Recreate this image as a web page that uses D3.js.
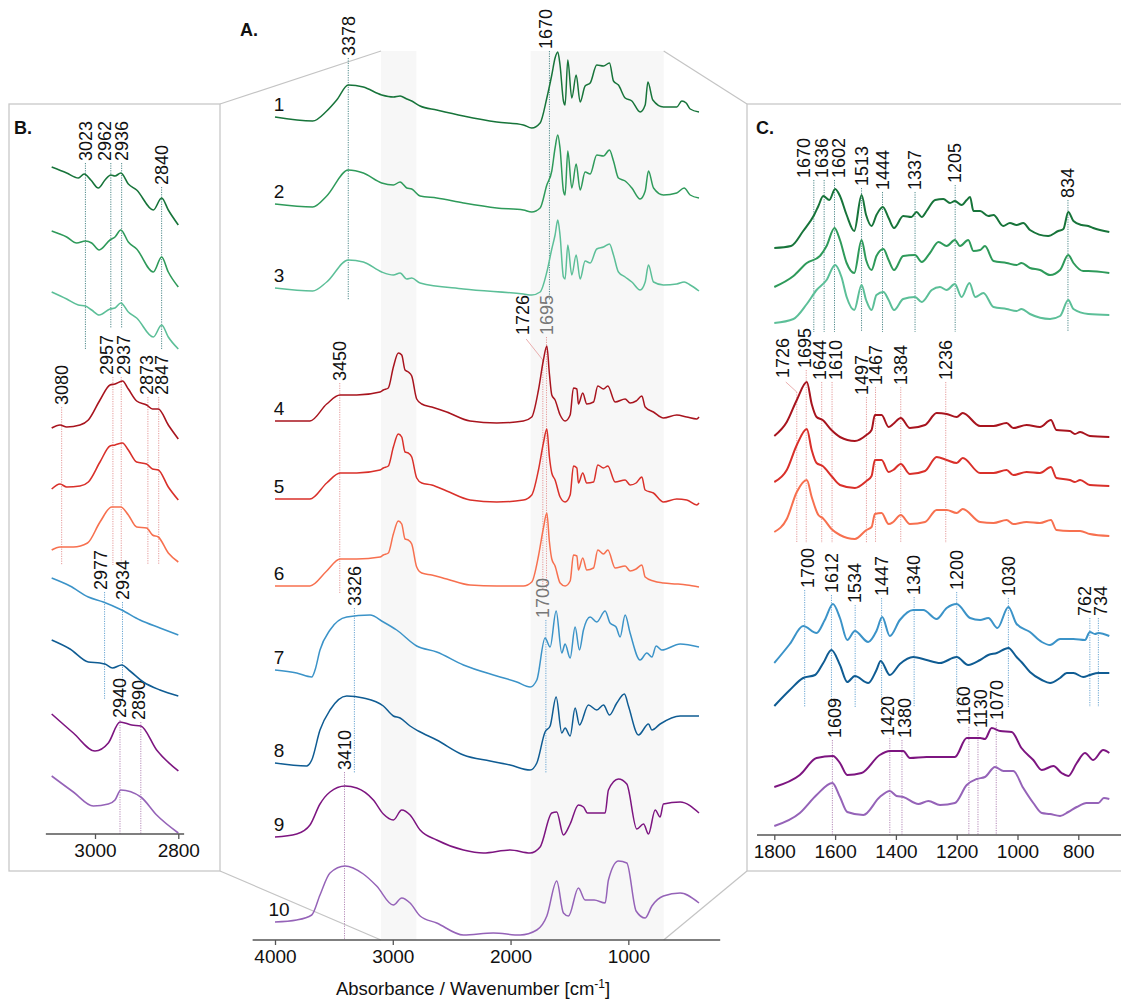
<!DOCTYPE html>
<html>
<head>
<meta charset="utf-8">
<script src="https://cdn.jsdelivr.net/npm/d3@7"></script>
<style>
  body { margin: 0; background: #fff; }
  svg { font-family: "Liberation Sans", Arial, sans-serif; }
</style>
</head>
<body>
<svg id="chart" width="1121" height="1000"></svg>
<script>
// ---- sample labels and colours ----
const sampleLabels = ["1", "2", "3", "4", "5", "6", "7", "8", "9", "10"];
const colors = ["#17743a", "#2e9a5a", "#5cbf98", "#a8141e", "#d9302a", "#f7704f",
                "#3b93c8", "#0f5c93", "#7d1580", "#9563b8"];

// ---- A. full spectra, [wavenumber, absorbance relative to 4000 cm-1] ----
const specA1 = [[4000,0],[3680,-0.04],[3561,0.06],[3476,0.17],[3378,0.32],[3250,0.30],[3094,0.22],[2995,0.20],[2938,0.21],[2881,0.18],[2839,0.16],[2768,0.11],[2627,0.07],[2400,0.01],[2117,-0.05],[1891,-0.08],[1820,-0.11],[1749,-0.06],[1692,0.19],[1650,0.42],[1622,0.59],[1599,0.65],[1580,0.52],[1551,0.16],[1537,0.12],[1514,0.57],[1480,0.19],[1443,0.42],[1409,0.15],[1367,0.31],[1324,0.34],[1268,0.52],[1211,0.51],[1160,0.54],[1126,0.36],[1084,0.32],[1027,0.19],[970,0.16],[900,0.05],[857,0.12],[834,0.35],[792,0.17],[702,0.10],[589,0.10],[546,0.16],[509,0.14],[475,0.08],[400,0.05]];
const specA2 = [[4000,0],[3680,-0.03],[3561,0.08],[3378,0.34],[3250,0.31],[3094,0.21],[2995,0.19],[2938,0.22],[2881,0.16],[2839,0.15],[2768,0.08],[2627,0.06],[2400,0.01],[2117,-0.04],[1891,-0.06],[1820,-0.08],[1749,-0.04],[1692,0.19],[1650,0.33],[1622,0.56],[1599,0.69],[1580,0.56],[1551,0.13],[1537,0.09],[1514,0.53],[1480,0.16],[1443,0.40],[1409,0.14],[1367,0.32],[1324,0.30],[1268,0.49],[1211,0.48],[1160,0.54],[1126,0.43],[1084,0.26],[1027,0.23],[970,0.16],[900,0.05],[857,0.13],[829,0.33],[786,0.16],[702,0.09],[589,0.11],[526,0.16],[475,0.09],[400,0.06]];
const specA3 = [[4000,0],[3680,-0.03],[3561,0.06],[3378,0.28],[3250,0.26],[3094,0.16],[2995,0.13],[2938,0.15],[2881,0.09],[2839,0.10],[2768,0.05],[2400,-0.01],[1891,-0.06],[1820,-0.07],[1749,-0.04],[1692,0.16],[1650,0.39],[1622,0.53],[1599,0.68],[1580,0.53],[1551,0.11],[1537,0.09],[1514,0.43],[1480,0.13],[1443,0.33],[1409,0.09],[1367,0.27],[1324,0.25],[1268,0.39],[1211,0.41],[1160,0.44],[1126,0.33],[1084,0.16],[1027,0.11],[970,0.06],[900,-0.02],[857,0.06],[829,0.23],[786,0.06],[702,0.03],[589,0.04],[526,0.06],[475,0.03],[400,-0.03]];
const specA4 = [[4000,0],[3703,0],[3561,0.17],[3448,0.26],[3306,0.26],[3108,0.29],[3080,0.31],[3038,0.33],[2995,0.54],[2953,0.68],[2924,0.66],[2896,0.51],[2868,0.49],[2839,0.45],[2797,0.22],[2754,0.17],[2669,0.14],[2542,0.09],[2344,0],[2117,-0.02],[1891,0],[1820,0.04],[1763,0.31],[1721,0.61],[1692,0.75],[1670,0.47],[1650,0.26],[1622,0.21],[1579,0.06],[1537,0],[1494,0.06],[1466,0.33],[1437,0.32],[1424,0.17],[1387,0.28],[1353,0.17],[1296,0.19],[1259,0.35],[1211,0.32],[1174,0.35],[1112,0.19],[1027,0.22],[985,0.18],[934,0.20],[885,0.25],[857,0.14],[787,0.09],[702,0.03],[589,0.06],[504,0.04],[419,0.02],[400,0.04]];
const specA5 = [[4000,0],[3703,0],[3561,0.16],[3448,0.26],[3306,0.26],[3108,0.29],[3080,0.31],[3038,0.33],[2995,0.52],[2953,0.65],[2924,0.62],[2896,0.47],[2868,0.46],[2839,0.42],[2797,0.21],[2754,0.16],[2669,0.14],[2542,0.08],[2344,-0.01],[2117,-0.03],[1891,-0.01],[1820,0.04],[1763,0.29],[1721,0.56],[1692,0.70],[1670,0.42],[1650,0.26],[1622,0.19],[1579,0.02],[1537,-0.03],[1494,0.04],[1466,0.33],[1437,0.31],[1424,0.16],[1387,0.26],[1353,0.16],[1296,0.17],[1259,0.34],[1211,0.31],[1174,0.33],[1112,0.17],[1027,0.19],[985,0.14],[934,0.16],[885,0.22],[857,0.09],[787,0.06],[702,-0.03],[589,0],[504,-0.01],[419,-0.06],[400,-0.04]];
const specA6 = [[4000,0],[3703,0],[3561,0.15],[3448,0.27],[3306,0.27],[3108,0.29],[3080,0.31],[3038,0.33],[2995,0.52],[2953,0.65],[2924,0.62],[2896,0.47],[2868,0.46],[2839,0.42],[2797,0.19],[2754,0.13],[2669,0.11],[2542,0.07],[2344,0.01],[2117,0],[1891,0],[1820,0.04],[1763,0.30],[1721,0.58],[1692,0.73],[1670,0.44],[1650,0.27],[1622,0.20],[1579,0.03],[1537,0],[1494,0.05],[1466,0.31],[1437,0.30],[1424,0.16],[1387,0.28],[1353,0.16],[1296,0.18],[1259,0.36],[1211,0.32],[1174,0.36],[1112,0.18],[1027,0.20],[985,0.15],[934,0.17],[885,0.21],[857,0.09],[787,0.05],[702,0.03],[589,0.02],[504,0.01],[400,-0.01]];
const specA7 = [[4000,0],[3816,-0.03],[3688,-0.07],[3660,0],[3618,0.20],[3533,0.40],[3391,0.53],[3193,0.55],[3080,0.48],[2967,0.40],[2797,0.24],[2627,0.18],[2400,0.05],[2117,-0.06],[1947,-0.12],[1834,-0.17],[1777,-0.10],[1707,0.32],[1664,0.23],[1613,0.59],[1565,0.17],[1537,0.26],[1494,0.12],[1452,0.43],[1415,0.20],[1381,0.40],[1324,0.53],[1268,0.48],[1197,0.59],[1155,0.47],[1104,0.43],[1070,0.33],[1027,0.55],[985,0.37],[900,0.10],[843,0.17],[800,0.13],[764,0.24],[716,0.20],[560,0.26],[400,0.23]];
const specA8 = [[4000,0],[3731,-0.03],[3688,0.03],[3618,0.33],[3533,0.53],[3391,0.67],[3250,0.65],[3080,0.57],[2995,0.47],[2938,0.45],[2853,0.37],[2783,0.32],[2627,0.23],[2400,0.08],[2174,0.02],[2004,-0.02],[1834,-0.07],[1777,0],[1707,0.31],[1664,0.37],[1613,0.66],[1565,0.30],[1537,0.35],[1494,0.27],[1452,0.55],[1415,0.38],[1339,0.58],[1268,0.53],[1211,0.58],[1160,0.48],[1098,0.60],[1033,0.69],[999,0.57],[914,0.28],[829,0.39],[800,0.33],[730,0.39],[560,0.47],[400,0.47]];
const specA9 = [[4000,0],[3816,0.03],[3703,0.12],[3618,0.33],[3533,0.45],[3405,0.51],[3306,0.49],[3165,0.37],[3080,0.23],[2995,0.17],[2924,0.27],[2853,0.22],[2768,0.07],[2627,-0.03],[2400,-0.13],[2231,-0.16],[2004,-0.13],[1834,-0.16],[1749,-0.10],[1650,0.24],[1608,0.25],[1551,0.02],[1494,0.13],[1424,0.32],[1381,0.30],[1347,0.24],[1197,0.24],[1169,0.47],[1084,0.58],[1013,0.53],[928,0.08],[871,0.13],[829,0.03],[772,0.27],[730,0.20],[702,0.33],[560,0.35],[400,0.24]];
const specA10 = [[4000,0],[3816,0.02],[3688,0.07],[3618,0.27],[3533,0.49],[3405,0.56],[3250,0.48],[3137,0.36],[2995,0.17],[2924,0.24],[2853,0.19],[2768,0.06],[2627,-0.01],[2400,-0.13],[2146,-0.11],[1919,-0.13],[1777,-0.08],[1692,0.06],[1608,0.41],[1551,0.09],[1508,0.06],[1424,0.34],[1367,0.22],[1290,0.22],[1197,0.19],[1169,0.42],[1084,0.61],[1013,0.59],[934,0.11],[857,0.04],[800,0.16],[702,0.26],[560,0.29],[400,0.19]];
const offsetsA = [8.23, 7.36, 6.52, 5.19, 4.41, 3.54, 2.70, 1.77, 1.03, 0.18];

// ---- B. 3100-2800 cm-1 detail ----
const specB1 = [[3104,0],[3068,-0.06],[3040,-0.11],[3026,-0.07],[3010,-0.13],[2992,-0.21],[2976,-0.13],[2962,-0.08],[2952,-0.09],[2938,-0.06],[2920,-0.17],[2900,-0.23],[2860,-0.43],[2840,-0.31],[2824,-0.43],[2800,-0.58]];
const specB2 = [[3104,0],[3068,-0.06],[3044,-0.12],[3023,-0.10],[3008,-0.12],[2990,-0.19],[2964,-0.09],[2952,-0.06],[2938,0.01],[2920,-0.11],[2900,-0.18],[2860,-0.41],[2840,-0.26],[2824,-0.41],[2800,-0.56]];
const specB3 = [[3104,0],[3068,-0.07],[3040,-0.13],[3023,-0.14],[3008,-0.18],[2990,-0.23],[2964,-0.17],[2952,-0.16],[2938,-0.11],[2920,-0.20],[2900,-0.26],[2860,-0.45],[2840,-0.33],[2824,-0.45],[2800,-0.57]];
const specB4 = [[3104,0],[3084,0.03],[3068,0.01],[3036,0.03],[3016,0.08],[2988,0.28],[2964,0.43],[2952,0.44],[2934,0.47],[2920,0.39],[2900,0.27],[2876,0.23],[2862,0.19],[2848,0.19],[2824,0.03],[2800,-0.11]];
const specB5 = [[3104,0],[3084,0.05],[3068,0.02],[3036,0.03],[3016,0.07],[2988,0.27],[2964,0.43],[2952,0.44],[2934,0.46],[2920,0.39],[2900,0.27],[2876,0.25],[2862,0.20],[2848,0.19],[2824,0.02],[2800,-0.11]];
const specB6 = [[3104,0],[3084,0.03],[3052,0.03],[3018,0.07],[2988,0.28],[2960,0.43],[2938,0.43],[2920,0.35],[2900,0.23],[2876,0.22],[2862,0.15],[2848,0.13],[2824,-0.03],[2800,-0.12]];
const specB7 = [[3104,0],[3060,-0.08],[3016,-0.19],[2980,-0.24],[2936,-0.32],[2892,-0.42],[2844,-0.50],[2800,-0.57]];
const specB8 = [[3104,0],[3060,-0.09],[3016,-0.22],[2988,-0.23],[2976,-0.24],[2958,-0.28],[2936,-0.25],[2916,-0.31],[2884,-0.42],[2844,-0.50],[2800,-0.56]];
const specB9 = [[3104,0],[3052,-0.19],[3000,-0.37],[2968,-0.29],[2940,-0.08],[2912,-0.11],[2890,-0.12],[2852,-0.36],[2800,-0.57]];
const specB10 = [[3104,0],[3052,-0.16],[3004,-0.30],[2968,-0.28],[2952,-0.24],[2938,-0.14],[2890,-0.21],[2852,-0.39],[2800,-0.57]];
const offsetsB = [6.67, 6.03, 5.42, 4.06, 3.45, 2.84, 2.56, 1.94, 1.20, 0.58];

// ---- C. 1800-700 cm-1 detail ----
const specC1 = [[1800,0],[1745,0.02],[1705,0.17],[1669,0.33],[1655,0.42],[1639,0.52],[1619,0.48],[1600,0.59],[1584,0.52],[1562,0.33],[1537,0.17],[1513,0.53],[1498,0.33],[1480,0.22],[1464,0.33],[1443,0.41],[1424,0.30],[1406,0.20],[1376,0.32],[1349,0.31],[1332,0.36],[1315,0.31],[1299,0.37],[1271,0.48],[1244,0.49],[1222,0.45],[1206,0.47],[1184,0.43],[1167,0.48],[1156,0.51],[1145,0.37],[1123,0.37],[1096,0.32],[1079,0.33],[1047,0.22],[1025,0.25],[1003,0.23],[981,0.25],[959,0.18],[899,0.12],[866,0.17],[849,0.19],[833,0.36],[816,0.27],[789,0.23],[767,0.22],[751,0.20],[698,0.16]];
const specC2 = [[1800,0],[1737,0.11],[1693,0.24],[1650,0.31],[1628,0.41],[1602,0.59],[1584,0.47],[1562,0.24],[1537,0.14],[1513,0.47],[1498,0.27],[1480,0.17],[1464,0.31],[1441,0.38],[1424,0.27],[1406,0.17],[1376,0.31],[1337,0.32],[1315,0.25],[1288,0.34],[1260,0.45],[1233,0.41],[1206,0.47],[1189,0.41],[1162,0.47],[1145,0.36],[1123,0.37],[1107,0.41],[1079,0.26],[1036,0.24],[1003,0.22],[987,0.24],[959,0.19],[926,0.17],[893,0.12],[860,0.17],[833,0.32],[816,0.24],[784,0.16],[767,0.16],[698,0.14]];
const specC3 = [[1800,0],[1737,0.04],[1693,0.19],[1661,0.33],[1628,0.43],[1600,0.58],[1579,0.46],[1562,0.26],[1537,0.13],[1513,0.38],[1498,0.23],[1480,0.13],[1464,0.28],[1441,0.31],[1424,0.23],[1406,0.13],[1376,0.24],[1337,0.26],[1315,0.21],[1282,0.33],[1255,0.36],[1233,0.33],[1206,0.39],[1184,0.26],[1158,0.40],[1139,0.26],[1112,0.30],[1079,0.16],[1036,0.14],[1003,0.12],[987,0.14],[959,0.09],[893,0.04],[860,0.07],[833,0.23],[816,0.14],[767,0.09],[698,0.08]];
const specC4 = [[1800,0],[1759,0.14],[1726,0.36],[1693,0.54],[1677,0.32],[1661,0.19],[1641,0.16],[1612,0.06],[1584,-0.01],[1535,-0.05],[1497,0.01],[1480,0.06],[1469,0.21],[1447,0.21],[1424,0.09],[1409,0.12],[1384,0.18],[1354,0.08],[1304,0.11],[1266,0.23],[1233,0.22],[1200,0.19],[1180,0.23],[1123,0.10],[1079,0.10],[1036,0.13],[1014,0.08],[970,0.11],[926,0.09],[890,0.16],[872,0.06],[828,0.05],[811,0.02],[794,0.04],[762,0],[698,-0.01]];
const specC5 = [[1800,0],[1759,0.12],[1726,0.37],[1693,0.53],[1677,0.32],[1661,0.19],[1641,0.16],[1612,0.06],[1584,-0.03],[1535,-0.06],[1497,0.01],[1480,0.06],[1469,0.22],[1447,0.22],[1424,0.10],[1409,0.12],[1384,0.18],[1354,0.08],[1304,0.11],[1266,0.25],[1233,0.22],[1200,0.19],[1180,0.24],[1123,0.09],[1079,0.09],[1036,0.12],[1014,0.07],[970,0.10],[926,0.09],[890,0.15],[872,0.04],[828,0.02],[811,0],[794,0.02],[762,-0.03],[698,-0.04]];
const specC6 = [[1800,0],[1759,0.13],[1726,0.40],[1693,0.52],[1677,0.35],[1655,0.17],[1641,0.14],[1612,0.03],[1584,-0.03],[1535,-0.07],[1497,0.02],[1480,0.05],[1469,0.18],[1447,0.19],[1424,0.08],[1409,0.10],[1384,0.17],[1354,0.08],[1304,0.10],[1266,0.22],[1233,0.22],[1200,0.19],[1180,0.23],[1123,0.10],[1079,0.09],[1036,0.12],[1014,0.08],[970,0.10],[926,0.09],[890,0.12],[872,0.02],[828,0.01],[794,0.01],[762,-0.02],[698,-0.04]];
const specC7 = [[1800,0],[1749,0.19],[1705,0.37],[1661,0.30],[1634,0.43],[1607,0.59],[1584,0.45],[1560,0.23],[1535,0.32],[1491,0.21],[1464,0.32],[1445,0.46],[1420,0.27],[1387,0.43],[1343,0.53],[1310,0.53],[1266,0.44],[1233,0.55],[1200,0.59],[1156,0.45],[1123,0.43],[1096,0.45],[1066,0.35],[1030,0.56],[1003,0.39],[959,0.31],[920,0.21],[893,0.18],[860,0.24],[816,0.24],[778,0.23],[762,0.31],[745,0.29],[734,0.30],[698,0.27]];
const specC8 = [[1800,0],[1749,0.16],[1705,0.28],[1666,0.31],[1639,0.43],[1612,0.56],[1584,0.41],[1560,0.24],[1535,0.30],[1491,0.23],[1464,0.36],[1450,0.45],[1420,0.31],[1387,0.42],[1343,0.49],[1299,0.46],[1255,0.43],[1200,0.49],[1162,0.41],[1123,0.46],[1096,0.51],[1068,0.53],[1030,0.58],[1003,0.49],[987,0.44],[959,0.34],[920,0.26],[893,0.23],[860,0.28],[838,0.33],[816,0.33],[784,0.29],[762,0.31],[734,0.33],[698,0.33]];
const specC9 = [[1800,0],[1716,0.12],[1661,0.29],[1607,0.31],[1584,0.24],[1560,0.12],[1513,0.14],[1453,0.32],[1420,0.36],[1376,0.36],[1354,0.29],[1299,0.30],[1206,0.30],[1167,0.49],[1123,0.49],[1107,0.48],[1085,0.59],[1057,0.56],[1019,0.55],[987,0.39],[948,0.27],[920,0.17],[882,0.21],[855,0.14],[833,0.11],[805,0.24],[778,0.34],[751,0.27],[718,0.37],[698,0.34]];
const specC10 = [[1800,0],[1716,0.13],[1661,0.31],[1609,0.43],[1584,0.29],[1560,0.14],[1507,0.11],[1453,0.29],[1420,0.35],[1398,0.30],[1376,0.29],[1326,0.22],[1293,0.25],[1255,0.21],[1206,0.23],[1167,0.41],[1134,0.47],[1107,0.49],[1074,0.59],[1046,0.55],[1014,0.55],[981,0.38],[948,0.23],[920,0.13],[893,0.12],[860,0.10],[833,0.14],[805,0.19],[773,0.23],[734,0.23],[716,0.28],[698,0.27]];
const offsetsC = [5.87, 5.48, 5.12, 3.99, 3.53, 3.03, 1.72, 1.29, 0.48, 0.09];

// ---- peak markers: [wavenumber, label base, line bottom, label wavenumber, line top] ----
const marksA = [[3378, 8.82, 6.40], [1670, 8.89, 6.40, 1704], [3450, 5.57, 3.47],
                [1726, 6.03, 3.50, 1893, 5.80], [1695, 6.03, 3.50],
                [3326, 3.32, 1.67], [1700, 3.20, 1.67, 1725], [3410, 1.68, 0]];
const marksB = [[3023, 6.71, 4.84], [2962, 6.71, 5.06, 2976], [2936, 6.71, 5.06], [2840, 6.47, 4.84],
                [3080, 4.27, 2.69], [2957, 4.57, 2.69, 2973], [2937, 4.57, 2.69, 2932], [2873, 4.37, 2.69, 2877], [2847, 4.37, 2.69, 2840],
                [2977, 2.42, 1.34, 2987], [2934, 2.32, 1.34],
                [2940, 1.14, 0], [2890, 1.12, 0, 2895]];
const marksCgreen = [[1670, 6.55, 5.03, 1702], [1636, 6.55, 5.03, 1644], [1602, 6.55, 5.03, 1589], [1513, 6.47, 5.03],
                     [1444, 6.43, 5.03], [1337, 6.43, 5.03], [1205, 6.50, 5.03], [834, 6.35, 5.03]];
const marksCred = [[1726, 4.55, 2.92, 1772, 4.43], [1695, 4.65, 2.92, 1700], [1644, 4.53, 2.92, 1652], [1610, 4.53, 2.92, 1598],
                   [1497, 4.38, 2.92, 1513], [1467, 4.48, 2.92], [1384, 4.48, 2.92], [1236, 4.53, 2.92]];
const marksCblue = [[1700, 2.45, 1.28, 1690], [1612, 2.40, 1.28], [1534, 2.30, 1.28], [1447, 2.37, 1.28],
                    [1340, 2.38, 1.28], [1200, 2.43, 1.28], [1030, 2.37, 1.28], [762, 2.17, 1.28, 778], [734, 2.17, 1.28, 727]];
const marksCpurple = [[1609, 0.95, 0, 1603], [1420, 0.97, 0, 1426], [1380, 0.95, 0, 1371],
                      [1160, 1.08, 0, 1176], [1130, 1.05, 0, 1121], [1070, 1.13, 0]];

// ---- axes ----
const ticksA = [4000, 3000, 2000, 1000];
const ticksB = [3000, 2800];
const ticksC = [1800, 1600, 1400, 1200, 1000, 800];
const bandsA = [[3100, 2800], [1830, 700]];

const specsA = [specA1, specA2, specA3, specA4, specA5, specA6, specA7, specA8, specA9, specA10];
const specsB = [specB1, specB2, specB3, specB4, specB5, specB6, specB7, specB8, specB9, specB10];
const specsC = [specC1, specC2, specC3, specC4, specC5, specC6, specC7, specC8, specC9, specC10];

const svg = d3.select("#chart");

// scales
const xA = d3.scaleLinear().domain([4000, 400]).range([275, 699]);
const yA = d3.scaleLinear().domain([0, 8.9]).range([940, 50]);
const xB = d3.scaleLinear().domain([3000, 2800]).range([95, 178.3]);
const yB = d3.scaleLinear().domain([0, 7.3]).range([834, 104]);
const xC = d3.scaleLinear().domain([1800, 700]).range([774.3, 1108.7]);
const yC = d3.scaleLinear().domain([0, 7.31]).range([835, 104]);

// frames for B and C, and the zoom guides
const frameColor = "#c8c8c8";
svg.append("rect").attr("x", 9).attr("y", 104).attr("width", 211).attr("height", 767)
    .attr("fill", "none").attr("stroke", frameColor).attr("stroke-width", 1.3);
svg.append("rect").attr("x", 747).attr("y", 104).attr("width", 400).attr("height", 767)
    .attr("fill", "none").attr("stroke", frameColor).attr("stroke-width", 1.3);

// shaded bands in A
bandsA.forEach(b => {
    svg.append("rect")
        .attr("x", xA(b[0])).attr("y", yA(8.89))
        .attr("width", xA(b[1]) - xA(b[0])).attr("height", yA(0) - yA(8.89))
        .attr("fill", "#f7f7f7");
});

const guides = [[220, 104, xA(3100), yA(8.89)], [220, 871, xA(3100), yA(0)],
                [xA(700), yA(8.89), 747, 104], [xA(700), yA(0), 747, 871]];
guides.forEach(g => {
    svg.append("line").attr("x1", g[0]).attr("y1", g[1]).attr("x2", g[2]).attr("y2", g[3])
        .attr("stroke", "#c4c4c4").attr("stroke-width", 1.2);
});

// peak markers (dotted line + rotated label)
function drawMarks(marks, x, y, lineColor, labelColor) {
    marks.forEach(m => {
        const [w, base, bottom, lw, top] = m;
        const lineTop = top !== undefined ? top : base;
        svg.append("line")
            .attr("x1", x(w)).attr("x2", x(w))
            .attr("y1", y(lineTop)).attr("y2", y(bottom))
            .attr("stroke", lineColor).attr("stroke-width", 1)
            .attr("stroke-dasharray", "1.2,1.2");
        const lx = lw !== undefined ? x(lw) : x(w);
        if (top !== undefined) {
            svg.append("line")
                .attr("x1", lx + 3).attr("y1", y(base) + 2)
                .attr("x2", x(w)).attr("y2", y(lineTop))
                .attr("stroke", lineColor).attr("stroke-width", 0.8);
        }
        svg.append("text")
            .attr("transform", `translate(${lx},${y(base) - 2}) rotate(-90)`)
            .attr("dy", "0.35em")
            .attr("font-size", 18)
            .attr("fill", typeof labelColor === "function" ? labelColor(w) : labelColor)
            .text(w);
    });
}

// spectra
function drawSpectra(specs, offsets, x, y, width) {
    const line = d3.line()
        .x(d => x(d[0]))
        .y(d => y(d[1]))
        .curve(d3.curveMonotoneX);
    specs.forEach((s, i) => {
        svg.append("path")
            .datum(s.map(d => [d[0], d[1] + offsets[i]]))
            .attr("d", line)
            .attr("fill", "none")
            .attr("stroke", colors[i])
            .attr("stroke-width", width)
            .attr("stroke-linejoin", "round");
    });
}

// A: markers behind the spectra
const greyLabel = w => (w === 1695 || w === 1700) ? "#777" : "#111";
drawMarks(marksA.slice(0, 2), xA, yA, "#4f8a8a", greyLabel);
drawMarks(marksA.slice(2, 5), xA, yA, "#e59a9a", greyLabel);
drawMarks(marksA.slice(5, 7), xA, yA, "#6aa6d2", greyLabel);
drawMarks(marksA.slice(7), xA, yA, "#b58ab8", greyLabel);
drawSpectra(specsA, offsetsA, xA, yA, 1.5);

// sample numbers
sampleLabels.forEach((t, i) => {
    svg.append("text")
        .attr("x", xA(4000) + 4)
        .attr("y", yA(offsetsA[i]) - 6)
        .attr("text-anchor", "middle")
        .attr("font-size", 19)
        .attr("fill", "#111")
        .text(t);
});

// B
drawMarks(marksB.slice(0, 4), xB, yB, "#4f8a8a", "#111");
drawMarks(marksB.slice(4, 9), xB, yB, "#e59a9a", "#111");
drawMarks(marksB.slice(9, 11), xB, yB, "#6aa6d2", "#111");
drawMarks(marksB.slice(11), xB, yB, "#b58ab8", "#111");
drawSpectra(specsB, offsetsB, xB, yB, 1.6);

// C
drawMarks(marksCgreen, xC, yC, "#4f8a8a", "#111");
drawMarks(marksCred, xC, yC, "#e59a9a", "#111");
drawMarks(marksCblue, xC, yC, "#6aa6d2", "#111");
drawMarks(marksCpurple, xC, yC, "#b58ab8", "#111");
drawSpectra(specsC, offsetsC, xC, yC, 2);

// axes
function drawAxis(x, y0, ticks, span) {
    const g = svg.append("g")
        .attr("transform", `translate(0,${y0})`)
        .call(d3.axisBottom(x).tickValues(ticks).tickSize(5).tickPadding(5).tickFormat(d3.format("d")));
    g.select(".domain").remove();
    g.append("line")
        .attr("x1", x(span[0])).attr("x2", x(span[1]))
        .attr("stroke", "#555").attr("stroke-width", 1.5);
    g.selectAll(".tick line").attr("stroke", "#555").attr("stroke-width", 1.3);
    g.selectAll(".tick text")
        .attr("font-family", "Liberation Sans, Arial, sans-serif")
        .attr("font-size", 19).attr("fill", "#111");
}
drawAxis(xA, yA(0), ticksA, [4190, 220]);
drawAxis(xB, yB(0), ticksB, [3118, 2786]);
drawAxis(xC, yC(0), ticksC, [1857, 500]);

// axis title
const title = svg.append("text")
    .attr("x", 473).attr("y", 995)
    .attr("text-anchor", "middle")
    .attr("font-size", 18.5)
    .attr("fill", "#111");
title.append("tspan").text("Absorbance / Wavenumber [cm");
title.append("tspan").attr("baseline-shift", "super").attr("font-size", 12).text("-1");
title.append("tspan").text("]");

// panel letters
[["A.", 240, 36], ["B.", 14, 134], ["C.", 756, 134]].forEach(p => {
    svg.append("text").attr("x", p[1]).attr("y", p[2])
        .attr("font-size", 18).attr("font-weight", "bold").attr("fill", "#111")
        .text(p[0]);
});
</script>
</body>
</html>
